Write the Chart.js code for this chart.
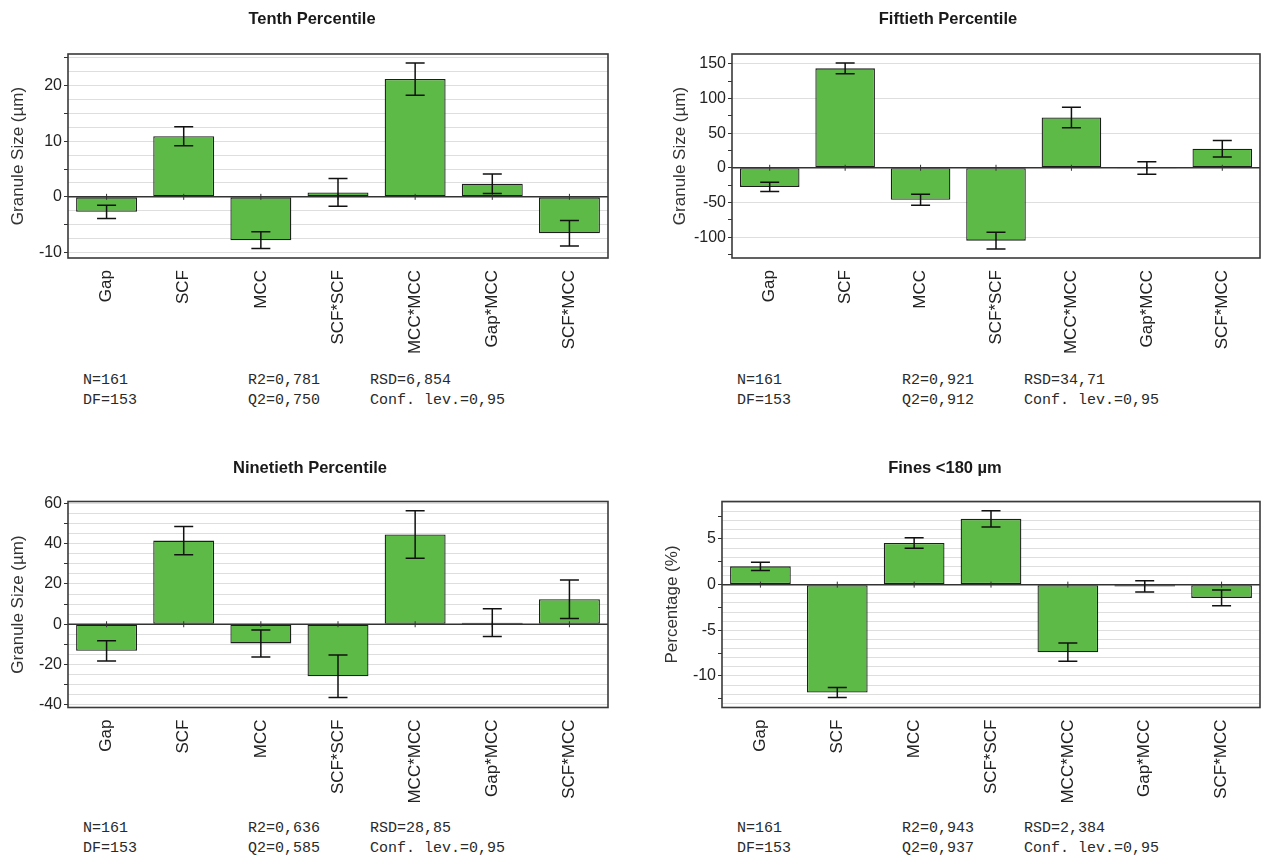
<!DOCTYPE html>
<html>
<head>
<meta charset="utf-8">
<script src="https://cdn.jsdelivr.net/npm/chart.js@4.4.1/dist/chart.umd.min.js"></script>
<style>
  body { margin: 0; background: #fff; }
  #page { position: relative; width: 1262px; height: 861px; overflow: hidden; }
  canvas { position: absolute; }
  .title { position: absolute; width: 400px; margin-left: -200px; text-align: center; font-family: "Liberation Sans", Arial, sans-serif; font-size: 16.5px; font-weight: bold; line-height: 20px; color: #1a1a1a; }
  .stats { position: absolute; font-family: "Liberation Mono", "Courier New", monospace; font-size: 15px; line-height: 20px; color: #2a2a2a; white-space: pre; }
</style>
</head>
<body>
<div id="page">
  <canvas id="c1" width="631" height="360" style="left:0;top:0"></canvas>
  <canvas id="c2" width="631" height="360" style="left:631px;top:0"></canvas>
  <canvas id="c3" width="631" height="360" style="left:0;top:450px"></canvas>
  <canvas id="c4" width="631" height="360" style="left:631px;top:450px"></canvas>
</div>
<script>
// terms of the fitted model (x categories)
const categories = ["Gap", "SCF", "MCC", "SCF*SCF", "MCC*MCC", "Gap*MCC", "SCF*MCC"];

const panelTitles = ["Tenth Percentile", "Fiftieth Percentile", "Ninetieth Percentile", "Fines <180 µm"];

// coefficients and 95% confidence half-widths
const tenthValues = [-2.7, 10.9, -7.8, 0.8, 21.2, 2.35, -6.55];
const tenthErrors = [1.2, 1.7, 1.5, 2.5, 2.9, 1.75, 2.3];

const fiftiethValues = [-27.5, 143.3, -46, -105, 72.5, -0.3, 27.5];
const fiftiethErrors = [6.8, 7.7, 8, 12.1, 14.9, 8.9, 11.8];

const ninetiethValues = [-13.2, 41.5, -9.5, -25.8, 44.5, 0.8, 12.4];
const ninetiethErrors = [5, 7, 6.7, 10.5, 11.8, 6.9, 9.6];

const finesValues = [2.0, -11.8, 4.55, 7.2, -7.4, -0.2, -1.45];
const finesErrors = [0.44, 0.55, 0.57, 0.9, 1.0, 0.62, 0.87];

// model statistics printed under each plot
const statsN = ["N=161", "N=161", "N=161", "N=161"];
const statsDF = ["DF=153", "DF=153", "DF=153", "DF=153"];
const statsR2 = ["R2=0,781", "R2=0,921", "R2=0,636", "R2=0,943"];
const statsQ2 = ["Q2=0,750", "Q2=0,912", "Q2=0,585", "Q2=0,937"];
const statsRSD = ["RSD=6,854", "RSD=34,71", "RSD=28,85", "RSD=2,384"];
const statsConf = ["Conf. lev.=0,95", "Conf. lev.=0,95", "Conf. lev.=0,95", "Conf. lev.=0,95"];

const FONT = "'Liberation Sans', Arial, sans-serif";
const BAR_GREEN = "#5eba46";

function isMultiple(v, m) {
  const r = v / m;
  return Math.abs(r - Math.round(r)) < 1e-6;
}

// error bars, little category ticks on the zero line and the plot frame
const errorBarPlugin = {
  id: "errorBars",
  afterDatasetsDraw(chart) {
    const { ctx, chartArea, scales } = chart;
    const xs = scales.x, ys = scales.y;
    const ds = chart.data.datasets[0];
    const y0 = ys.getPixelForValue(0);
    ctx.save();
    ctx.strokeStyle = "#333";
    ctx.lineWidth = 1.5;
    ctx.beginPath();
    ctx.moveTo(chartArea.left, y0);
    ctx.lineTo(chartArea.right, y0);
    ctx.stroke();
    ctx.lineWidth = 1;
    ds.data.forEach((v, i) => {
      const x = xs.getPixelForValue(i);
      ctx.beginPath();
      ctx.moveTo(x, y0 - 3);
      ctx.lineTo(x, y0 + 3);
      ctx.stroke();
    });
    ctx.strokeStyle = "#111";
    ctx.lineWidth = 1.5;
    ds.data.forEach((v, i) => {
      const x = xs.getPixelForValue(i);
      const hi = ys.getPixelForValue(v + ds.errors[i]);
      const lo = ys.getPixelForValue(v - ds.errors[i]);
      ctx.beginPath();
      ctx.moveTo(x, hi); ctx.lineTo(x, lo);
      ctx.moveTo(x - 9.5, hi); ctx.lineTo(x + 9.5, hi);
      ctx.moveTo(x - 9.5, lo); ctx.lineTo(x + 9.5, lo);
      ctx.stroke();
    });
    ctx.strokeStyle = "#3a3a3a";
    ctx.lineWidth = 1.6;
    ctx.strokeRect(chartArea.left, chartArea.top, chartArea.right - chartArea.left, chartArea.bottom - chartArea.top);
    ctx.restore();
  }
};

function makePanel(id, cfg) {
  const ctx = document.getElementById(id).getContext("2d");
  return new Chart(ctx, {
    type: "bar",
    data: {
      labels: categories,
      datasets: [{
        data: cfg.values,
        errors: cfg.errors,
        backgroundColor: BAR_GREEN,
        borderColor: "#1e1e1e",
        borderWidth: 1.3,
        borderSkipped: false,
        barPercentage: 0.79,
        categoryPercentage: 1
      }]
    },
    options: {
      responsive: false,
      animation: false,
      devicePixelRatio: 1,
      layout: { padding: { left: 0, right: cfg.padRight, top: cfg.plotTop, bottom: 0 } },
      plugins: {
        legend: { display: false },
        tooltip: { enabled: false },
        title: { display: false }
      },
      scales: {
        x: {
          grid: { display: false },
          border: { display: false },
          ticks: {
            autoSkip: false,
            minRotation: 90,
            maxRotation: 90,
            padding: 4,
            color: "#222",
            font: { family: FONT, size: 17 }
          },
          afterFit(scale) { scale.height = cfg.xHeight; }
        },
        y: {
          min: cfg.min,
          max: cfg.max,
          border: { display: false },
          grid: {
            color: c => isMultiple(c.tick.value, cfg.gridEvery) ? "#dedede" : "rgba(0,0,0,0)",
            tickColor: c => isMultiple(c.tick.value, cfg.markEvery) ? "#333" : "rgba(0,0,0,0)",
            tickLength: 4
          },
          ticks: {
            stepSize: cfg.step,
            includeBounds: false,
            autoSkip: false,
            maxTicksLimit: 200,
            padding: 2,
            color: "#222",
            font: { family: FONT, size: 16 },
            callback: v => isMultiple(v, cfg.labelEvery) ? String(v) : ""
          },
          title: {
            display: true,
            text: cfg.yTitle,
            color: "#333",
            font: { family: FONT, size: 17 },
            padding: { top: cfg.yTitlePad, bottom: 0 }
          },
          afterFit(scale) { scale.width = cfg.yWidth; }
        }
      }
    },
    plugins: [errorBarPlugin]
  });
}

document.addEventListener("DOMContentLoaded", function () {
  makePanel("c1", {
    yTitle: "Granule Size (µm)",
    values: tenthValues, errors: tenthErrors,
    min: -11, max: 25.7, step: 2.5, gridEvery: 2.5, markEvery: 5, labelEvery: 10,
    yWidth: 68, yTitlePad: 7.8, padRight: 23, plotTop: 54, xHeight: 102
  });
  makePanel("c2", {
    yTitle: "Granule Size (µm)",
    values: fiftiethValues, errors: fiftiethErrors,
    min: -130, max: 164, step: 25, gridEvery: 50, markEvery: 25, labelEvery: 50,
    yWidth: 101, yTitlePad: 38.8, padRight: 2, plotTop: 54, xHeight: 102
  });
  makePanel("c3", {
    yTitle: "Granule Size (µm)",
    values: ninetiethValues, errors: ninetiethErrors,
    min: -41.3, max: 60.9, step: 5, gridEvery: 5, markEvery: 10, labelEvery: 20,
    yWidth: 68, yTitlePad: 7.8, padRight: 23, plotTop: 51.5, xHeight: 102.5
  });
  makePanel("c4", {
    yTitle: "Percentage (%)",
    values: finesValues, errors: finesErrors,
    min: -13.45, max: 9.1, step: 0.5, gridEvery: 1, markEvery: 2.5, labelEvery: 5,
    yWidth: 91, yTitlePad: 30.8, padRight: 2, plotTop: 51.5, xHeight: 102.5
  });

  const page = document.getElementById("page");

  // panel titles: centre x, centre y
  const titlePos = [[312, 18], [948, 18], [310, 467], [945, 467]];
  titlePos.forEach((p, i) => {
    const t = document.createElement("div");
    t.className = "title";
    t.style.left = p[0] + "px";
    t.style.top = (p[1] - 10) + "px";
    t.textContent = panelTitles[i];
    page.appendChild(t);
  });

  // statistics blocks: [left, top] of each panel's first column
  const statPos = [[83, 371], [737, 371], [83, 819], [737, 819]];
  const colOffsets = [0, 165, 287];
  statPos.forEach((p, i) => {
    const cols = [
      statsN[i] + "\n" + statsDF[i],
      statsR2[i] + "\n" + statsQ2[i],
      statsRSD[i] + "\n" + statsConf[i]
    ];
    cols.forEach((txt, j) => {
      const d = document.createElement("div");
      d.className = "stats";
      d.style.left = (p[0] + colOffsets[j]) + "px";
      d.style.top = p[1] + "px";
      d.textContent = txt;
      page.appendChild(d);
    });
  });
});
</script>
</body>
</html>
